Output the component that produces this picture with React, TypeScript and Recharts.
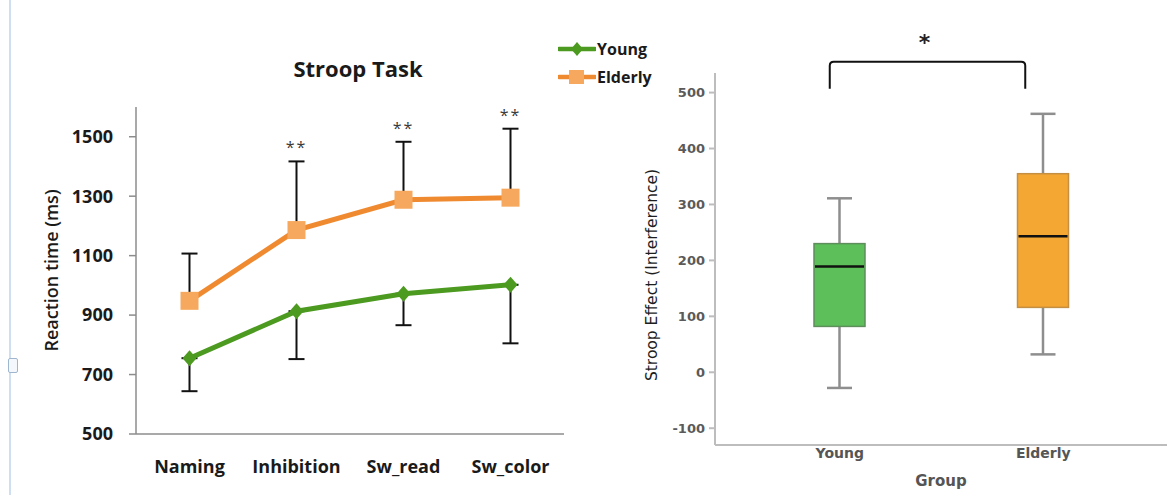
import React from "react"
import {
  ComposedChart,
  Line,
  Bar,
  XAxis,
  YAxis,
  ErrorBar,
  LabelList,
  ReferenceLine,
} from "recharts"

// Stroop task reaction times (ms), mean and one-sided SD per condition
const TASKS = ["Naming", "Inhibition", "Sw_read", "Sw_color"]
const YOUNG_RT = [755, 913, 972, 1002]
const YOUNG_SD = [111, 161, 106, 197]
const ELDERLY_RT = [948, 1186, 1288, 1295]
const ELDERLY_SD = [159, 231, 195, 232]
const SIG_MARKS = ["", "**", "**", "**"]
const RT_TICKS = [500, 700, 900, 1100, 1300, 1500]

// Stroop interference per group (box plot summary)
const GROUPS = ["Young", "Elderly"]
const STROOP_MIN = [-28, 32]
const STROOP_Q1 = [82, 116]
const STROOP_MEDIAN = [189, 243]
const STROOP_Q3 = [230, 355]
const STROOP_MAX = [311, 462]
const STROOP_TICKS = [-100, 0, 100, 200, 300, 400, 500]
const BRACKET_LEVEL = 555

const YOUNG_LINE = "#4c9a1f"
const ELDERLY_LINE = "#ef8a30"
const ELDERLY_MARKER = "#f6a95e"
const BOX_FILL = ["#5cbf5a", "#f5a733"]
const BOX_EDGE = ["#5d8e5b", "#c48f42"]

const EXCEL_FONT = "'Open Sans', sans-serif"
const SPSS_FONT = "'DejaVu Sans', sans-serif"

const rtRows = TASKS.map((task, i) => ({
  pos: i,
  task,
  young: YOUNG_RT[i],
  youngErr: [YOUNG_SD[i], 0],
  elderly: ELDERLY_RT[i],
  elderlyErr: [0, ELDERLY_SD[i]],
  sigTop: SIG_MARKS[i] ? ELDERLY_RT[i] + ELDERLY_SD[i] : null,
  sig: SIG_MARKS[i],
}))

const boxRows = GROUPS.map((group, i) => ({
  group,
  idx: i,
  min: STROOP_MIN[i],
  q1: STROOP_Q1[i],
  median: STROOP_MEDIAN[i],
  q3: STROOP_Q3[i],
  max: STROOP_MAX[i],
}))

function DiamondDot(props: any) {
  const { cx, cy } = props
  if (cx == null || cy == null) return null
  return (
    <polygon
      points={`${cx},${cy - 8} ${cx + 7},${cy} ${cx},${cy + 8} ${cx - 7},${cy}`}
      fill={YOUNG_LINE}
    />
  )
}

function SquareDot(props: any) {
  const { cx, cy } = props
  if (cx == null || cy == null) return null
  return <rect x={cx - 9} y={cy - 9} width={18} height={18} fill={ELDERLY_MARKER} />
}

function StarLabel(props: any) {
  const { x, y, value } = props
  if (!value || x == null || y == null) return null
  return (
    <text x={x} y={y - 8} textAnchor="middle" fontSize={16} fill="#3a3a3a" fontFamily={EXCEL_FONT} letterSpacing={2}>
      {value}
    </text>
  )
}

function RtAxisTitle(props: any) {
  const vb = props.viewBox || {}
  const x = 51
  const y = (vb.y ?? 107) + (vb.height ?? 327) / 2
  return (
    <text
      x={x}
      y={y}
      transform={`rotate(-90, ${x}, ${y})`}
      textAnchor="middle"
      dominantBaseline="central"
      fontSize={18}
      fontWeight={600}
      fontFamily={EXCEL_FONT}
      fill="#1a1a1a"
    >
      Reaction time (ms)
    </text>
  )
}

function StroopAxisTitle(props: any) {
  const vb = props.viewBox || {}
  const x = 32
  const y = (vb.y ?? 73) + (vb.height ?? 372) / 2 + 16
  return (
    <text
      x={x}
      y={y}
      transform={`rotate(-90, ${x}, ${y})`}
      textAnchor="middle"
      dominantBaseline="central"
      fontSize={15.5}
      fontFamily={SPSS_FONT}
      fill="#1e1e1e"
    >
      Stroop Effect (Interference)
    </text>
  )
}

// box + whiskers + median, drawn from the q1..q3 range bar
function BoxShape(props: any) {
  const { x, y, width, height, payload } = props
  if (x == null || y == null || !payload) return null
  const top = Math.min(y, y + height)
  const h = Math.abs(height)
  const k = h / (payload.q3 - payload.q1)
  const cx = x + width / 2
  const yMax = top - (payload.max - payload.q3) * k
  const yMin = top + h + (payload.q1 - payload.min) * k
  const yMed = top + (payload.q3 - payload.median) * k
  const cap = 12.5
  return (
    <g>
      <line x1={cx} y1={yMax} x2={cx} y2={top} stroke="#8e8e8e" strokeWidth={2.5} />
      <line x1={cx} y1={top + h} x2={cx} y2={yMin} stroke="#8e8e8e" strokeWidth={2.5} />
      <line x1={cx - cap} y1={yMax} x2={cx + cap} y2={yMax} stroke="#8e8e8e" strokeWidth={2.5} />
      <line x1={cx - cap} y1={yMin} x2={cx + cap} y2={yMin} stroke="#8e8e8e" strokeWidth={2.5} />
      <rect
        x={x}
        y={top}
        width={width}
        height={h}
        fill={BOX_FILL[payload.idx]}
        stroke={BOX_EDGE[payload.idx]}
        strokeWidth={1.5}
      />
      <line x1={x + 1} y1={yMed} x2={x + width - 1} y2={yMed} stroke="#111" strokeWidth={2.5} />
    </g>
  )
}

function Bracket(props: any) {
  const { x1, y1, x2 } = props
  if (x1 == null || y1 == null || x2 == null) return null
  const l = x1 - 10
  const r = x2 - 18
  const drop = 27
  return (
    <g>
      <path
        d={`M${l},${y1 + drop} L${l},${y1 + 4} Q${l},${y1} ${l + 4},${y1} L${r - 4},${y1} Q${r},${y1} ${r},${y1 + 4} L${r},${y1 + drop}`}
        fill="none"
        stroke="#111"
        strokeWidth={2}
      />
      <text x={(l + r) / 2 - 3} y={y1 - 12} textAnchor="middle" fontSize={22} fontWeight="bold" fontFamily={SPSS_FONT} fill="#222">
        *
      </text>
    </g>
  )
}

function LegendRow({ label, color, marker }: { label: string; color: string; marker: "diamond" | "square" }) {
  return (
    <div style={{ display: "flex", alignItems: "center", height: 28 }}>
      <svg width={38} height={20}>
        <line x1={1} y1={10} x2={37} y2={10} stroke={color} strokeWidth={4.5} strokeLinecap="round" />
        {marker === "diamond" ? (
          <polygon points="19,3 25,10 19,17 13,10" fill={color} />
        ) : (
          <rect x={11} y={3} width={15} height={14} fill={ELDERLY_MARKER} />
        )}
      </svg>
      <span style={{ fontFamily: EXCEL_FONT, fontWeight: 700, fontSize: 16, color: "#1a1a1a", marginLeft: 1 }}>{label}</span>
    </div>
  )
}

export default function App() {
  return (
    <div style={{ position: "absolute", left: 0, top: 0, width: 1172, height: 495, background: "#fff", overflow: "hidden" }}>
      {/* page edge and handle */}
      <div style={{ position: "absolute", left: 9, top: 0, width: 2, height: 495, background: "#cddff1" }} />
      <div style={{ position: "absolute", left: 8, top: 358, width: 8, height: 13, border: "1px solid #9fb6cf", borderRadius: 2, background: "#f4f8fc" }} />

      <div
        style={{
          position: "absolute",
          left: 258,
          top: 55,
          width: 200,
          textAlign: "center",
          fontFamily: EXCEL_FONT,
          fontWeight: 700,
          fontSize: 22,
          lineHeight: "26px",
          color: "#1a1a1a",
        }}
      >
        Stroop Task
      </div>

      <div style={{ position: "absolute", left: 558, top: 35 }}>
        <LegendRow label="Young" color={YOUNG_LINE} marker="diamond" />
        <LegendRow label="Elderly" color={ELDERLY_LINE} marker="square" />
      </div>

      <div style={{ position: "absolute", left: 0, top: 0 }}>
        <ComposedChart width={600} height={495} data={rtRows} margin={{ top: 107, right: 36, bottom: 3, left: 0 }}>
          <XAxis
            xAxisId="bounds"
            type="number"
            dataKey="pos"
            domain={[-0.5, 3.5]}
            ticks={[-0.5, 0.5, 1.5, 2.5, 3.5]}
            allowDataOverflow
            tick={false}
            tickSize={6}
            height={8}
            stroke="#8c8c8c"
            strokeWidth={1.5}
          />
          <XAxis
            xAxisId="names"
            type="number"
            dataKey="pos"
            domain={[-0.5, 3.5]}
            ticks={[0, 1, 2, 3]}
            allowDataOverflow
            tickFormatter={(v: number) => TASKS[v]}
            axisLine={false}
            tickLine={false}
            tickSize={0}
            tickMargin={18}
            height={50}
            tick={{ fontFamily: EXCEL_FONT, fontWeight: 700, fontSize: 18, fill: "#1a1a1a" }}
          />
          <YAxis
            type="number"
            domain={[500, 1600]}
            ticks={RT_TICKS}
            allowDataOverflow
            width={136}
            tickSize={7}
            tickMargin={16}
            stroke="#8c8c8c"
            strokeWidth={1.5}
            tick={{ fontFamily: EXCEL_FONT, fontWeight: 700, fontSize: 18, fill: "#1a1a1a" }}
            label={<RtAxisTitle />}
          />
          <Line
            xAxisId="bounds"
            dataKey="young"
            type="linear"
            stroke={YOUNG_LINE}
            strokeWidth={5}
            dot={(p: any) => <DiamondDot key={`y${p.index}`} {...p} />}
            activeDot={false}
            isAnimationActive={false}
          >
            <ErrorBar dataKey="youngErr" direction="y" width={8} stroke="#111" strokeWidth={2} />
          </Line>
          <Line
            xAxisId="names"
            dataKey="elderly"
            type="linear"
            stroke={ELDERLY_LINE}
            strokeWidth={5}
            dot={(p: any) => <SquareDot key={`e${p.index}`} {...p} />}
            activeDot={false}
            isAnimationActive={false}
          >
            <ErrorBar dataKey="elderlyErr" direction="y" width={8} stroke="#111" strokeWidth={2} />
          </Line>
          <Line
            xAxisId="bounds"
            dataKey="sigTop"
            stroke="none"
            dot={false}
            activeDot={false}
            isAnimationActive={false}
          >
            <LabelList dataKey="sig" content={<StarLabel />} />
          </Line>
        </ComposedChart>
      </div>

      <div style={{ position: "absolute", left: 620, top: 0 }}>
        <ComposedChart width={552} height={495} data={boxRows} margin={{ top: 73, right: 5, bottom: 0, left: 0 }}>
          <XAxis
            dataKey="group"
            type="category"
            padding={{ left: 23, right: 22 }}
            height={50}
            tickLine={false}
            tickSize={0}
            tickMargin={3}
            stroke="#bdbdbd"
            strokeWidth={2}
            tick={{ fontFamily: SPSS_FONT, fontWeight: 700, fontSize: 14, fill: "#555" }}
            label={{ value: "Group", position: "insideBottom", offset: 9, fontFamily: SPSS_FONT, fontWeight: 700, fontSize: 15, fill: "#555" }}
          />
          <YAxis
            type="number"
            domain={[-130, 535]}
            ticks={STROOP_TICKS}
            allowDataOverflow
            width={95}
            tickSize={6}
            tickMargin={4}
            stroke="#bdbdbd"
            strokeWidth={2}
            tick={{ fontFamily: SPSS_FONT, fontWeight: 700, fontSize: 13, fill: "#5a5a5a" }}
            label={<StroopAxisTitle />}
          />
          <Bar
            dataKey={(d: any) => [d.q1, d.q3]}
            barSize={51}
            shape={(p: any) => <BoxShape {...p} />}
            isAnimationActive={false}
          />
          <ReferenceLine
            segment={[
              { x: GROUPS[0], y: BRACKET_LEVEL },
              { x: GROUPS[1], y: BRACKET_LEVEL },
            ]}
            ifOverflow="visible"
            shape={(p: any) => <Bracket {...p} />}
          />
        </ComposedChart>
      </div>
    </div>
  )
}
